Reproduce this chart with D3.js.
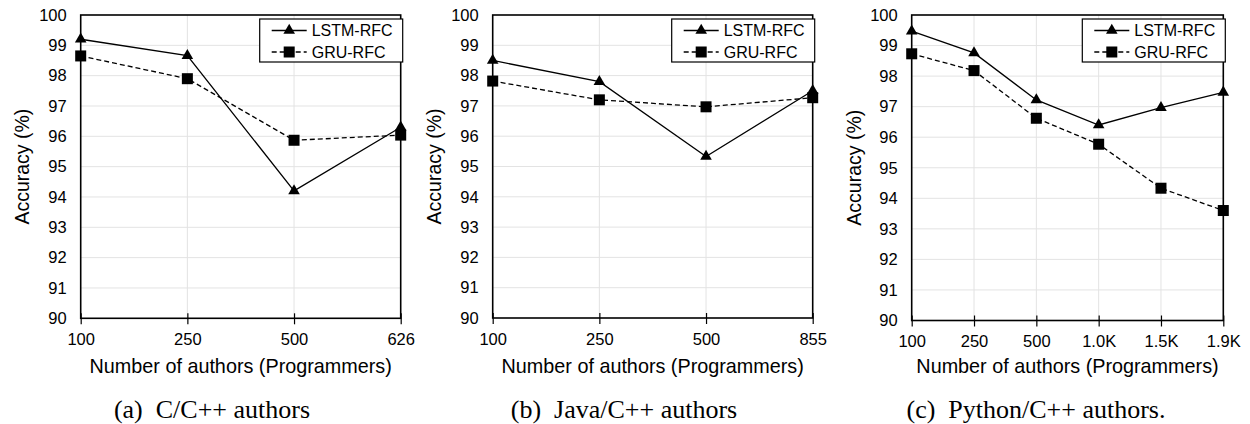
<!DOCTYPE html>
<html>
<head>
<meta charset="utf-8">
<script src="https://cdn.jsdelivr.net/npm/d3@7"></script>
<style>
  html, body { margin: 0; padding: 0; background: #fff; }
  svg { display: block; }
</style>
</head>
<body>
<svg id="chart" width="1250" height="424"></svg>
<script>
// ---- data ----
const yTicks = [90, 91, 92, 93, 94, 95, 96, 97, 98, 99, 100];
const seriesNames = ["LSTM-RFC", "GRU-RFC"];

const categoriesA = ["100", "250", "500", "626"];
const lstmA = [99.2, 98.66, 94.2, 96.3];
const gruA = [98.65, 97.9, 95.87, 96.04];

const categoriesB = ["100", "250", "500", "855"];
const lstmB = [98.5, 97.8, 95.33, 97.5];
const gruB = [97.82, 97.2, 96.97, 97.27];

const categoriesC = ["100", "250", "500", "1.0K", "1.5K", "1.9K"];
const lstmC = [99.47, 98.76, 97.22, 96.4, 96.97, 97.47];
const gruC = [98.73, 98.18, 96.62, 95.77, 94.33, 93.6];

const captions = ["(a)\u2002C/C++ authors", "(b)\u2002Java/C++ authors", "(c)\u2002Python/C++ authors."];
const xTitle = "Number of authors (Programmers)";
const yTitle = "Accuracy (%)";

// ---- layout ----
const panels = [
  { cats: categoriesA, lstm: lstmA, gru: gruA, left: 80.7, right: 400.7, top: 15, bottom: 318.3, labelX: 22, capX: 212, cap: captions[0] },
  { cats: categoriesB, lstm: lstmB, gru: gruB, left: 492.7, right: 812.7, top: 15, bottom: 318, labelX: 434, capX: 624, cap: captions[1] },
  { cats: categoriesC, lstm: lstmC, gru: gruC, left: 911.7, right: 1223.3, top: 15, bottom: 320.5, labelX: 854, capX: 1036, cap: captions[2] }
];

const svg = d3.select("#chart");
const sans = "Arial, 'Liberation Sans', sans-serif";
const serif = "'Times New Roman', 'Liberation Serif', serif";

panels.forEach(p => {
  const g = svg.append("g");
  const x = d3.scalePoint().domain(p.cats).range([p.left, p.right]).padding(0);
  const y = d3.scaleLinear().domain([90, 100]).range([p.bottom, p.top]);

  // grid
  g.append("g").selectAll("line.h").data(yTicks.slice(1, -1)).join("line")
    .attr("x1", p.left).attr("x2", p.right)
    .attr("y1", d => y(d)).attr("y2", d => y(d))
    .attr("stroke", "#e3e3e3").attr("stroke-width", 1);
  g.append("g").selectAll("line.v").data(p.cats.slice(1, -1)).join("line")
    .attr("x1", d => x(d)).attr("x2", d => x(d))
    .attr("y1", p.top).attr("y2", p.bottom)
    .attr("stroke", "#e3e3e3").attr("stroke-width", 1);

  // frame
  g.append("rect").attr("x", p.left).attr("y", p.top)
    .attr("width", p.right - p.left).attr("height", p.bottom - p.top)
    .attr("fill", "none").attr("stroke", "#000").attr("stroke-width", 1.6);

  // y axis labels
  const yAxis = d3.axisLeft(y).tickValues(yTicks).tickSize(0).tickPadding(14).tickFormat(d3.format("d"));
  const ya = g.append("g").attr("transform", `translate(${p.left},0)`).call(yAxis);
  ya.select(".domain").remove();
  ya.selectAll("text").attr("font-family", sans).attr("font-size", 16.5).attr("fill", "#000");

  // x axis
  const xAxis = d3.axisBottom(x).tickSizeInner(6).tickSizeOuter(0).tickPadding(9);
  const xa = g.append("g").attr("transform", `translate(0,${p.bottom})`).call(xAxis);
  xa.select(".domain").remove();
  xa.selectAll(".tick line").attr("y1", -5).attr("stroke", "#000").attr("stroke-width", 1.2);
  xa.selectAll("text").attr("font-family", sans).attr("font-size", 16.5).attr("fill", "#000");

  // titles
  g.append("text").attr("x", (p.left + p.right) / 2).attr("y", 372.5)
    .attr("text-anchor", "middle").attr("font-family", sans).attr("font-size", 19.8)
    .text(xTitle);
  g.append("text")
    .attr("transform", `translate(${p.labelX + 7},${(p.top + p.bottom) / 2}) rotate(-90)`)
    .attr("text-anchor", "middle").attr("font-family", sans).attr("font-size", 19.5)
    .text(yTitle);
  g.append("text").attr("x", p.capX).attr("y", 417.5)
    .attr("text-anchor", "middle").attr("font-family", serif).attr("font-size", 26)
    .text(p.cap);

  // lines
  const line = d3.line().x((d, i) => x(p.cats[i])).y(d => y(d));
  g.append("path").datum(p.gru).attr("d", line)
    .attr("fill", "none").attr("stroke", "#000").attr("stroke-width", 1.3)
    .attr("stroke-dasharray", "5,3");
  g.append("path").datum(p.lstm).attr("d", line)
    .attr("fill", "none").attr("stroke", "#000").attr("stroke-width", 1.3);

  // markers
  g.append("g").selectAll("rect").data(p.gru).join("rect")
    .attr("x", (d, i) => x(p.cats[i]) - 5.5).attr("y", d => y(d) - 5.5)
    .attr("width", 11).attr("height", 11).attr("fill", "#000");
  const tri = d3.symbol().type(d3.symbolTriangle).size(58);
  g.append("g").selectAll("path").data(p.lstm).join("path")
    .attr("d", tri)
    .attr("transform", (d, i) => `translate(${x(p.cats[i])},${y(d)})`)
    .attr("fill", "#000");

  // legend
  const lx = p.right - 141, ly = 19;
  const lg = g.append("g").attr("transform", `translate(${lx},${ly})`);
  lg.append("rect").attr("width", 143).attr("height", 43)
    .attr("fill", "#fff").attr("stroke", "#000").attr("stroke-width", 1.2);
  const rows = [{ name: seriesNames[0], dash: null, sym: "tri", yy: 11.5 },
                { name: seriesNames[1], dash: "5,3", sym: "sq", yy: 33 }];
  rows.forEach(r => {
    lg.append("line").attr("x1", 12).attr("x2", 47).attr("y1", r.yy).attr("y2", r.yy)
      .attr("stroke", "#000").attr("stroke-width", 1.3)
      .attr("stroke-dasharray", r.dash);
    if (r.sym === "tri") {
      lg.append("path").attr("d", tri).attr("transform", `translate(29.5,${r.yy})`).attr("fill", "#000");
    } else {
      lg.append("rect").attr("x", 24).attr("y", r.yy - 5.5).attr("width", 11).attr("height", 11).attr("fill", "#000");
    }
    lg.append("text").attr("x", 52).attr("y", r.yy + 5.8)
      .attr("font-family", sans).attr("font-size", 16).text(r.name);
  });
});
</script>
</body>
</html>
